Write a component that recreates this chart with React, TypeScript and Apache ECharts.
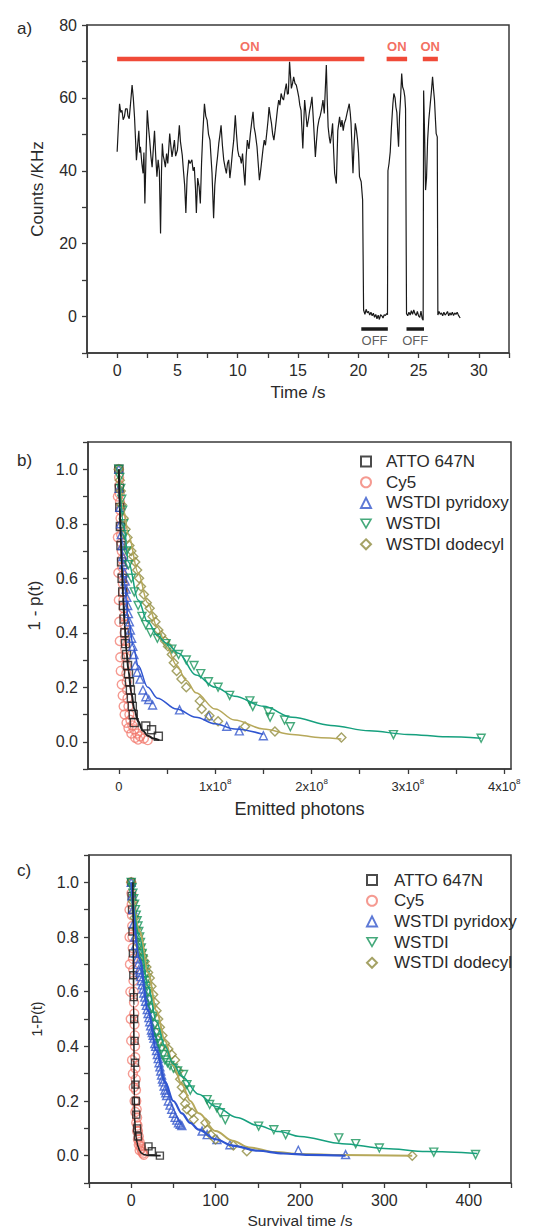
import React, { useEffect, useRef } from "react";
import * as echarts from "echarts";

// ---------- Panel a: fluorescence time trace ----------
const TRACE_T = [
  0, 0.1, 0.2, 0.3, 0.4, 0.5, 0.6, 0.7, 0.83, 0.9, 1.0, 1.1, 1.24, 1.34, 1.44, 1.52, 1.6, 1.7, 1.8, 1.87,
  1.93, 2.05, 2.15, 2.22, 2.3, 2.4, 2.5, 2.6, 2.7, 2.8, 2.9, 3.0, 3.1, 3.2, 3.3, 3.4, 3.5, 3.6, 3.68, 3.75,
  3.83, 3.9, 4.0, 4.1, 4.2, 4.36, 4.45, 4.55, 4.65, 4.75, 4.85, 5.0, 5.16, 5.25, 5.4, 5.5, 5.6, 5.7, 5.8, 5.94,
  6.05, 6.2, 6.3, 6.4, 6.5, 6.57, 6.68, 6.8, 6.9, 7.0, 7.1, 7.24, 7.35, 7.46, 7.58, 7.7, 7.8, 7.87, 8.0, 8.1,
  8.23, 8.33, 8.43, 8.53, 8.62, 8.73, 8.84, 8.95, 9.06, 9.15, 9.25, 9.35, 9.45, 9.56, 9.67, 9.8, 9.9, 10.0, 10.1, 10.2,
  10.3, 10.4, 10.5, 10.6, 10.7, 10.8, 10.93, 11.05, 11.15, 11.27, 11.36, 11.46, 11.6, 11.7, 11.8, 11.9, 12.0, 12.1, 12.2, 12.3,
  12.43, 12.52, 12.6, 12.7, 12.8, 12.9, 13.0, 13.1, 13.2, 13.3, 13.4, 13.5, 13.6, 13.7, 13.8, 13.92, 14.03, 14.12, 14.2, 14.3,
  14.38, 14.45, 14.55, 14.64, 14.75, 14.86, 14.96, 15.06, 15.15, 15.25, 15.4, 15.55, 15.65, 15.75, 15.86, 15.97, 16.06, 16.16, 16.3, 16.44,
  16.53, 16.63, 16.74, 16.85, 16.96, 17.07, 17.18, 17.35, 17.42, 17.5, 17.6, 17.68, 17.78, 17.87, 17.96, 18.04, 18.18, 18.3, 18.45, 18.55,
  18.65, 18.75, 18.84, 18.95, 19.06, 19.15, 19.25, 19.33, 19.4, 19.56, 19.65, 19.75, 19.85, 19.94, 20.02, 20.1, 20.24, 20.36, 20.44, 20.55,
  20.65, 20.75, 20.85, 20.95, 21.05, 21.15, 21.25, 21.35, 21.45, 21.55, 21.65, 21.75, 21.85, 21.95, 22.05, 22.15, 22.25, 22.35, 22.42, 22.46,
  22.55, 22.65, 22.75, 22.87, 22.95, 23.05, 23.12, 23.2, 23.28, 23.34, 23.42, 23.5, 23.6, 23.68, 23.78, 23.86, 23.92, 24.0, 24.1, 24.2,
  24.3, 24.4, 24.5, 24.6, 24.7, 24.8, 24.9, 25.0, 25.1, 25.2, 25.3, 25.38, 25.42, 25.5, 25.58, 25.66, 25.75, 25.85, 25.97, 26.07,
  26.16, 26.25, 26.32, 26.4, 26.46, 26.55, 26.6, 26.7, 26.8, 26.9, 27.0, 27.1, 27.2, 27.3, 27.4, 27.5, 27.6, 27.7, 27.8, 27.9,
  28.0, 28.1, 28.2, 28.3, 28.45,
];
const TRACE_Y = [
  45.2, 52, 58.4, 56, 56.6, 54, 54.8, 57, 57, 55, 54.3, 58, 63.5, 60, 54.8, 49, 42.9, 47, 51, 45,
  46.6, 42, 39.3, 45, 31, 45, 56.6, 52, 48.4, 44, 41, 46, 51, 44, 38.4, 43, 40, 22.8, 40, 47.5,
  44, 43, 41, 44.7, 42, 50.2, 47, 43.8, 46, 48.4, 44, 45.7, 52.5, 48, 44.3, 40, 36, 28.4, 38, 43,
  42, 43, 40, 41, 35, 28.4, 38, 35.6, 31, 42, 50, 58.4, 55, 53.9, 50, 48.4, 43, 39.3, 27, 36,
  41, 44, 47.5, 50, 52.5, 47, 43, 41, 39.3, 42, 43, 38, 41, 45, 48.4, 55.2, 50, 45.7, 44, 43.8,
  42, 44.7, 40, 36, 44, 48.4, 46, 50.2, 53, 56.2, 52, 50.2, 46.6, 42, 37.4, 40, 43, 46, 48.4, 47,
  51, 54, 57.5, 55, 53, 50, 48.4, 51, 53.9, 57, 59.4, 58, 61.2, 60, 59.4, 62, 63.9, 61, 61.2, 69.9,
  66, 62.6, 64, 65.8, 64, 63.5, 62, 60.3, 58, 56.6, 46.1, 59.4, 56, 52, 54, 56.6, 58, 60.3, 52.5, 43.8,
  48, 52, 54, 55.2, 57, 59.4, 55.7, 69, 60, 52, 49, 47.5, 50, 53, 45, 39.3, 36.5, 51, 54.8, 52,
  53.9, 51, 53, 54, 55.7, 57, 58.4, 56, 53, 39.3, 47, 53, 51, 48.4, 45, 38.4, 37, 32, 1.8, 0.6,
  2.0, 1.0, 1.4, 0.4, 1.2, 0.2, 0.9, -0.2, 0.6, -0.6, 0.4, -0.8, 0.5, 0.2, -0.4, 0.5, 0.3, 0.8, 0.5, 40,
  42, 45.2, 52, 58.4, 61.2, 60, 57.5, 56, 50, 46.6, 55, 59.4, 66.7, 63, 62, 60.3, 57, 0.8, 0.2, 1.2,
  0.4, 1.6, 0.6, 1.8, 0.8, 0.3, 1.4, 0.2, -0.2, 1.5, -0.6, -1.0, 62, 50, 34.7, 38, 48.4, 54, 58.4, 62,
  65.8, 62, 59.4, 54, 50.2, 49.3, 0.4, 1.4, 0.6, 1.0, 0.2, 1.2, 0.4, 0.8, 1.4, 0.2, 1.0, 0.4, 1.2, 0.3,
  1.0, 0.6, 1.2, 0.4, -0.4,
];
const ON_BARS = [[0, 20.5], [22.35, 24.05], [25.35, 26.6]];
const ON_LEVEL = 70.7;
const ON_LABEL_T = [11.0, 23.2, 25.96];
const ON_LABEL_Y = 74.2;
const OFF_BARS = [[20.25, 22.45], [24.0, 25.45]];
const OFF_LEVEL = -3.4;
const OFF_LABEL_T = [21.35, 24.72];
const OFF_LABEL_Y = -6.7;

// ---------- Panel b: 1 - p(t) vs emitted photons (x in units of 1e8) ----------
const B_ATTO_X = [0, 0.005, 0.01, 0.016, 0.022, 0.028, 0.034, 0.04, 0.047, 0.054, 0.062, 0.07, 0.08, 0.09, 0.1, 0.11, 0.12, 0.13, 0.14, 0.15, 0.16, 0.28, 0.34, 0.41];
const B_ATTO_Y = [1.0, 0.93, 0.86, 0.79, 0.72, 0.66, 0.6, 0.55, 0.5, 0.45, 0.4, 0.36, 0.32, 0.28, 0.25, 0.22, 0.19, 0.16, 0.13, 0.1, 0.07, 0.058, 0.044, 0.02];
const B_ATTO_FIT_X = [0, 0.01, 0.02, 0.03, 0.045, 0.06, 0.08, 0.1, 0.13, 0.16, 0.2, 0.25, 0.3, 0.36, 0.42];
const B_ATTO_FIT_Y = [1.0, 0.86, 0.75, 0.65, 0.53, 0.43, 0.33, 0.26, 0.18, 0.12, 0.075, 0.04, 0.022, 0.012, 0.006];

const B_CY5_X = [
  0, 0.003, 0.006, 0.009, 0.012, 0.015, 0.018, 0.021, 0.024, 0.027, 0.03, 0.033, 0.036, 0.039, 0.042, 0.045, 0.048, 0.051, 0.054, 0.057,
  0.06, 0.063, 0.066, 0.07, 0.074, 0.078, 0.082, 0.086, 0.09, 0.1, 0.11, 0.12, 0.14, 0.16, 0.19, 0.22, 0.26, 0.3,
  -0.01, -0.01, -0.005, 0, 0.005, 0.01, 0.015, 0.02, 0.03, 0.04, 0.05, 0.06, 0.08, 0.1, 0.13, 0.17, 0.2,
];
const B_CY5_Y = [
  1.0, 0.97, 0.94, 0.91, 0.88, 0.85, 0.82, 0.79, 0.76, 0.73, 0.7, 0.67, 0.64, 0.61, 0.58, 0.55, 0.52, 0.49, 0.46, 0.43,
  0.4, 0.37, 0.34, 0.31, 0.28, 0.25, 0.22, 0.19, 0.16, 0.13, 0.1, 0.08, 0.06, 0.045, 0.03, 0.02, 0.012, 0.006,
  0.9, 0.75, 0.62, 0.52, 0.44, 0.37, 0.31, 0.26, 0.21, 0.17, 0.13, 0.1, 0.07, 0.05, 0.03, 0.015, 0.008,
];

const B_PYR_X = [0, 0.005, 0.01, 0.017, 0.025, 0.033, 0.042, 0.05, 0.058, 0.067, 0.075, 0.083, 0.092, 0.1, 0.11, 0.12, 0.133, 0.145, 0.157, 0.17, 0.19, 0.22, 0.25, 0.28, 0.31, 0.35, 0.63, 0.93, 1.12, 1.25, 1.5];
const B_PYR_Y = [1.0, 0.93, 0.86, 0.8, 0.76, 0.72, 0.68, 0.65, 0.62, 0.59, 0.56, 0.53, 0.5, 0.47, 0.44, 0.41, 0.38, 0.35, 0.32, 0.28, 0.255, 0.23, 0.19, 0.165, 0.155, 0.135, 0.117, 0.095, 0.057, 0.04, 0.022];
const B_PYR_FIT_X = [0, 0.02, 0.05, 0.1, 0.15, 0.2, 0.3, 0.4, 0.6, 0.8, 1.0, 1.2, 1.5];
const B_PYR_FIT_Y = [1.0, 0.78, 0.6, 0.45, 0.35, 0.28, 0.2, 0.16, 0.12, 0.09, 0.066, 0.047, 0.027];

const B_WSTDI_X = [0, 0.01, 0.02, 0.03, 0.04, 0.05, 0.06, 0.08, 0.1, 0.13, 0.16, 0.2, 0.24, 0.28, 0.33, 0.4, 0.49, 0.55, 0.62, 0.7, 0.78, 0.85, 0.93, 1.03, 1.15, 1.36, 1.39, 1.55, 1.57, 1.72, 1.78, 2.85, 3.76];
const B_WSTDI_Y = [1.0, 0.97, 0.93, 0.89, 0.85, 0.8, 0.76, 0.7, 0.65, 0.6, 0.55, 0.5, 0.46, 0.43, 0.4, 0.38, 0.36, 0.34, 0.32, 0.3, 0.28, 0.25, 0.22, 0.2, 0.17, 0.15, 0.13, 0.11, 0.09, 0.08, 0.055, 0.026, 0.013];
const B_WSTDI_FIT_X = [0, 0.05, 0.1, 0.2, 0.3, 0.4, 0.5, 0.62, 0.8, 1.0, 1.2, 1.5, 1.8, 2.2, 2.6, 3.0, 3.4, 3.76];
const B_WSTDI_FIT_Y = [1.0, 0.8, 0.66, 0.52, 0.44, 0.39, 0.36, 0.325, 0.245, 0.2, 0.167, 0.13, 0.09, 0.06, 0.04, 0.027, 0.018, 0.013];

const B_DODE_X = [0, 0.01, 0.02, 0.03, 0.05, 0.07, 0.09, 0.11, 0.13, 0.15, 0.17, 0.19, 0.21, 0.23, 0.26, 0.29, 0.32, 0.35, 0.38, 0.41, 0.44, 0.48, 0.51, 0.55, 0.57, 0.6, 0.65, 0.7, 0.84, 0.86, 0.94, 1.03, 1.31, 1.62, 2.31];
const B_DODE_Y = [1.0, 0.96, 0.92, 0.87, 0.82, 0.78, 0.75, 0.72, 0.7, 0.68, 0.66, 0.63, 0.6, 0.57, 0.54, 0.51, 0.49, 0.46, 0.44, 0.41, 0.39, 0.37, 0.35, 0.32, 0.29, 0.26, 0.23, 0.2, 0.15, 0.12, 0.095, 0.075, 0.056, 0.038, 0.016];
const B_DODE_FIT_X = [0, 0.05, 0.1, 0.2, 0.3, 0.4, 0.5, 0.6, 0.7, 0.8, 1.0, 1.2, 1.5, 1.8, 2.1, 2.31];
const B_DODE_FIT_Y = [1.0, 0.85, 0.76, 0.62, 0.51, 0.42, 0.345, 0.28, 0.225, 0.18, 0.12, 0.08, 0.047, 0.027, 0.015, 0.01];

// ---------- Panel c: 1 - P(t) vs survival time (s) ----------
const C_ATTO_X = [0, 0.5, 1, 1.5, 2, 2.5, 3, 3.5, 4, 4.5, 5, 5.5, 6, 7, 8, 20.5, 24.5, 34];
const C_ATTO_Y = [1.0, 0.95, 0.9, 0.82, 0.74, 0.66, 0.58, 0.5, 0.42, 0.34, 0.26, 0.2, 0.15, 0.1, 0.07, 0.034, 0.016, 0.0];
const C_ATTO_FIT_X = [2, 2.5, 3, 3.3, 3.6, 4, 5, 6, 7, 8, 10, 12, 15, 20, 35];
const C_ATTO_FIT_Y = [1.0, 0.8, 0.55, 0.35, 0.22, 0.14, 0.09, 0.065, 0.047, 0.034, 0.018, 0.01, 0.004, 0.001, 0.0];

const C_CY5_X = [
  0, 0.3, 0.6, 0.9, 1.2, 1.5, 1.8, 2.1, 2.4, 2.7, 3.0, 3.3, 3.6, 3.9, 4.2, 4.5, 4.8, 5.1, 5.4, 5.7, 6.0, 6.5, 7, 7.5, 8, 9, 10, 11, 12, 13, 14, 15,
  -2, -2, -1.5, -1, -0.5, 0, 1, 2, 3, 4, 5, 6, 7, 8, 9, 10,
];
const C_CY5_Y = [
  1.0, 0.96, 0.92, 0.88, 0.84, 0.8, 0.76, 0.72, 0.68, 0.64, 0.6, 0.56, 0.52, 0.48, 0.44, 0.4, 0.36, 0.32, 0.28, 0.24, 0.2, 0.17, 0.14, 0.11, 0.09, 0.07, 0.05, 0.035, 0.025, 0.015, 0.008, 0.003,
  0.9, 0.8, 0.7, 0.6, 0.5, 0.42, 0.35, 0.3, 0.25, 0.2, 0.16, 0.12, 0.09, 0.06, 0.04, 0.02,
];

const C_PYR_X = [0, 1, 2, 3, 4, 5, 6, 7, 8, 9, 10, 11, 12, 13, 14, 15, 16, 17, 18, 19, 20, 21, 22, 23, 24, 25, 26, 27, 28, 29, 30, 31, 32, 33, 34, 35, 36, 37, 38, 39, 40, 41, 42, 44, 46, 48, 50, 52, 54, 56, 58, 60, 84, 90, 101.6, 117, 198, 254];
const C_PYR_Y = [1.0, 0.95, 0.9, 0.85, 0.8, 0.77, 0.74, 0.72, 0.7, 0.68, 0.67, 0.655, 0.64, 0.625, 0.61, 0.595, 0.58, 0.565, 0.55, 0.535, 0.52, 0.505, 0.49, 0.475, 0.46, 0.45, 0.44, 0.43, 0.41, 0.4, 0.385, 0.37, 0.355, 0.34, 0.325, 0.31, 0.295, 0.28, 0.27, 0.255, 0.24, 0.23, 0.22, 0.2, 0.185, 0.17, 0.155, 0.14, 0.13, 0.12, 0.115, 0.11, 0.09, 0.077, 0.059, 0.04, 0.02, 0.004];
const C_PYR_FIT_X = [0, 10, 20, 30, 40, 50, 60, 70, 80, 100, 120, 150, 180, 210, 254];
const C_PYR_FIT_Y = [1.0, 0.72, 0.53, 0.385, 0.27, 0.2, 0.155, 0.12, 0.095, 0.06, 0.037, 0.018, 0.008, 0.003, 0.0];

const C_WSTDI_X = [0, 1, 2, 3, 4, 5, 6, 7, 8, 9, 10, 11, 12, 13, 14, 15, 16, 17, 18, 19, 20, 22, 24, 26, 28, 30, 32, 34, 36, 38, 40, 43, 46, 50, 55, 62, 66, 70, 90, 93, 101.6, 105.5, 111.5, 151, 169, 183, 246, 266, 294, 358.5, 408];
const C_WSTDI_Y = [1.0, 0.98, 0.96, 0.94, 0.92, 0.9, 0.88, 0.86, 0.84, 0.82, 0.8, 0.78, 0.76, 0.74, 0.72, 0.7, 0.68, 0.66, 0.64, 0.62, 0.6, 0.57, 0.54, 0.51, 0.48, 0.45, 0.43, 0.41, 0.39, 0.37, 0.35, 0.34, 0.33, 0.32, 0.31, 0.297, 0.26, 0.24, 0.205, 0.187, 0.175, 0.157, 0.132, 0.108, 0.095, 0.077, 0.065, 0.044, 0.028, 0.013, 0.004];
const C_WSTDI_FIT_X = [0, 10, 20, 30, 40, 50, 60, 80, 100, 125, 150, 175, 200, 250, 300, 350, 410];
const C_WSTDI_FIT_Y = [1.0, 0.8, 0.62, 0.49, 0.4, 0.335, 0.29, 0.225, 0.18, 0.14, 0.11, 0.088, 0.07, 0.044, 0.026, 0.015, 0.008];

const C_DODE_X = [0, 2, 4, 6, 8, 10, 12, 14, 16, 18, 20, 22, 24, 26, 28, 30, 32, 34, 37, 40, 44, 48, 52, 56, 58, 60, 62, 64, 66, 72, 74, 88, 90, 94, 100, 121, 137, 333];
const C_DODE_Y = [1.0, 0.93, 0.87, 0.83, 0.8, 0.77, 0.75, 0.73, 0.71, 0.69, 0.67, 0.65, 0.62, 0.59, 0.56, 0.53, 0.5, 0.47, 0.44, 0.41, 0.39, 0.37, 0.35, 0.31, 0.28, 0.25, 0.22, 0.19, 0.17, 0.157, 0.132, 0.12, 0.095, 0.077, 0.059, 0.037, 0.016, 0.0];
const C_DODE_FIT_X = [0, 10, 20, 30, 40, 50, 60, 70, 80, 100, 120, 140, 170, 200, 250, 333];
const C_DODE_FIT_Y = [1.0, 0.82, 0.67, 0.53, 0.42, 0.33, 0.26, 0.2, 0.155, 0.09, 0.055, 0.03, 0.013, 0.006, 0.002, 0.0];

const LEGEND_NAMES = ["ATTO 647N", "Cy5", "WSTDI pyridoxy", "WSTDI", "WSTDI dodecyl"];

// ---------- styling ----------
const FONT = "Liberation Sans, Arial, sans-serif";
const AXIS_COLOR = "#3a3a3a";
const TEXT_COLOR = "#2a2a2a";
const COL = {
  atto: "#1e1e1e",
  cy5: "#f2786c",
  pyr: "#3458cc",
  pyrLine: "#2f55d0",
  wstdi: "#17935a",
  wstdiLine: "#16a07e",
  dode: "#8f8b3e",
  dodeLine: "#b6a85a",
  on: "#f04a38",
};
const DOWN_TRIANGLE = "path://M0,0L10,0L5,8.7Z";

const zip = (xs: number[], ys: number[]) => xs.map((x, i) => [x, ys[i]]);

function axisCommon(fontSize: number) {
  return {
    axisLine: { show: true, onZero: false, lineStyle: { color: AXIS_COLOR, width: 1.5 } },
    axisTick: { show: true, inside: false, length: 5, lineStyle: { color: AXIS_COLOR, width: 1.3 } },
    splitLine: { show: false },
    axisLabel: { color: TEXT_COLOR, fontSize, fontFamily: FONT },
    nameTextStyle: { color: TEXT_COLOR, fontSize: 17, fontFamily: FONT },
    nameLocation: "middle" as const,
  };
}

function scatter(name: string, grid: number, xs: number[], ys: number[], symbol: string, color: string, extra: any = {}) {
  return {
    type: "scatter",
    name,
    xAxisIndex: grid,
    yAxisIndex: grid,
    data: zip(xs, ys),
    symbol,
    symbolSize: 8,
    itemStyle: { color: "transparent", borderColor: color, borderWidth: 1.4 },
    z: 2,
    ...extra,
  };
}

function fit(name: string, grid: number, xs: number[], ys: number[], color: string, width = 1.5) {
  return {
    type: "line",
    name,
    xAxisIndex: grid,
    yAxisIndex: grid,
    data: zip(xs, ys),
    showSymbol: false,
    symbol: "none",
    smooth: 0.35,
    smoothMonotone: "x",
    lineStyle: { color, width },
    z: 3,
  };
}

function buildOption() {
  const fracFmt = (v: number) => {
    const k = Math.round(v * 10);
    return k % 2 === 0 && k >= 0 ? (k / 10).toFixed(1) : "";
  };

  const series: any[] = [];
  // panel a
  series.push({
    type: "line",
    name: "trace",
    xAxisIndex: 0,
    yAxisIndex: 0,
    data: zip(TRACE_T, TRACE_Y),
    showSymbol: false,
    symbol: "none",
    lineStyle: { color: "#1a1a1a", width: 1.2 },
  });
  ON_BARS.forEach((b, i) =>
    series.push({
      type: "line",
      name: "on" + i,
      xAxisIndex: 0,
      yAxisIndex: 0,
      data: [[b[0], ON_LEVEL], [b[1], ON_LEVEL]],
      showSymbol: false,
      symbol: "none",
      lineStyle: { color: COL.on, width: 4.5, cap: "butt" },
    })
  );
  OFF_BARS.forEach((b, i) =>
    series.push({
      type: "line",
      name: "off" + i,
      xAxisIndex: 0,
      yAxisIndex: 0,
      data: [[b[0], OFF_LEVEL], [b[1], OFF_LEVEL]],
      showSymbol: false,
      symbol: "none",
      lineStyle: { color: "#1a1a1a", width: 3.5, cap: "butt" },
    })
  );
  series.push({
    type: "scatter",
    name: "onLabels",
    xAxisIndex: 0,
    yAxisIndex: 0,
    symbolSize: 1,
    itemStyle: { color: "transparent" },
    data: ON_LABEL_T.map((t) => ({ value: [t, ON_LABEL_Y], name: "ON" })),
    label: { show: true, position: "inside", formatter: "{b}", color: COL.on, fontSize: 13, fontWeight: "bold", fontFamily: FONT },
  });
  series.push({
    type: "scatter",
    name: "offLabels",
    xAxisIndex: 0,
    yAxisIndex: 0,
    symbolSize: 1,
    itemStyle: { color: "transparent" },
    data: OFF_LABEL_T.map((t) => ({ value: [t, OFF_LABEL_Y], name: "OFF" })),
    label: { show: true, position: "inside", formatter: "{b}", color: "#333", fontSize: 13, fontFamily: FONT },
  });

  const cy5Style = { itemStyle: { color: "transparent", borderColor: COL.cy5, borderWidth: 1.4, opacity: 0.75 }, symbolSize: 9 };

  // panel b
  series.push(scatter(LEGEND_NAMES[1], 1, B_CY5_X, B_CY5_Y, "circle", COL.cy5, cy5Style));
  series.push(scatter(LEGEND_NAMES[0], 1, B_ATTO_X, B_ATTO_Y, "rect", COL.atto));
  series.push(scatter(LEGEND_NAMES[2], 1, B_PYR_X, B_PYR_Y, "triangle", COL.pyr));
  series.push(scatter(LEGEND_NAMES[4], 1, B_DODE_X, B_DODE_Y, "diamond", COL.dode, { symbolSize: 9 }));
  series.push(scatter(LEGEND_NAMES[3], 1, B_WSTDI_X, B_WSTDI_Y, "triangle", COL.wstdi, { symbolRotate: 180 }));
  series.push(fit("fitB_pyr", 1, B_PYR_FIT_X, B_PYR_FIT_Y, COL.pyrLine));
  series.push(fit("fitB_dode", 1, B_DODE_FIT_X, B_DODE_FIT_Y, COL.dodeLine));
  series.push(fit("fitB_wstdi", 1, B_WSTDI_FIT_X, B_WSTDI_FIT_Y, COL.wstdiLine));
  series.push(fit("fitB_atto", 1, B_ATTO_FIT_X, B_ATTO_FIT_Y, COL.atto, 2));

  // panel c
  series.push(scatter(LEGEND_NAMES[1], 2, C_CY5_X, C_CY5_Y, "circle", COL.cy5, cy5Style));
  series.push(scatter(LEGEND_NAMES[0], 2, C_ATTO_X, C_ATTO_Y, "rect", COL.atto, { symbolSize: 7 }));
  series.push(scatter(LEGEND_NAMES[2], 2, C_PYR_X, C_PYR_Y, "triangle", COL.pyr));
  series.push(scatter(LEGEND_NAMES[4], 2, C_DODE_X, C_DODE_Y, "diamond", COL.dode, { symbolSize: 9 }));
  series.push(scatter(LEGEND_NAMES[3], 2, C_WSTDI_X, C_WSTDI_Y, "triangle", COL.wstdi, { symbolRotate: 180 }));
  series.push(fit("fitC_dode", 2, C_DODE_FIT_X, C_DODE_FIT_Y, COL.dodeLine, 2));
  series.push(fit("fitC_wstdi", 2, C_WSTDI_FIT_X, C_WSTDI_FIT_Y, COL.wstdiLine));
  series.push(fit("fitC_pyr", 2, C_PYR_FIT_X, C_PYR_FIT_Y, COL.pyrLine, 2.2));
  series.push(fit("fitC_atto", 2, C_ATTO_FIT_X, C_ATTO_FIT_Y, COL.atto, 1.6));

  const legendData = LEGEND_NAMES.map((n) =>
    n === "WSTDI"
      ? { name: n, icon: DOWN_TRIANGLE, itemStyle: { color: "transparent", borderColor: COL.wstdi, borderWidth: 1.6 } }
      : { name: n }
  );
  const legendCommon = {
    orient: "vertical" as const,
    data: legendData,
    padding: 0,
    itemWidth: 10,
    itemHeight: 10,
    itemGap: 3.7,
    selectedMode: false,
    textStyle: { color: TEXT_COLOR, fontSize: 17, fontFamily: FONT, padding: [0, 0, 0, 10] },
  };

  const gridCommon = { show: true, borderColor: AXIS_COLOR, borderWidth: 1.5, backgroundColor: "transparent" };

  return {
    animation: false,
    backgroundColor: "#ffffff",
    textStyle: { fontFamily: FONT },
    title: [
      { text: "a)", left: 12, top: 15, textStyle: { fontSize: 17, fontWeight: "normal", color: TEXT_COLOR, fontFamily: FONT } },
      { text: "b)", left: 12, top: 447, textStyle: { fontSize: 17, fontWeight: "normal", color: TEXT_COLOR, fontFamily: FONT } },
      { text: "c)", left: 12, top: 857, textStyle: { fontSize: 17, fontWeight: "normal", color: TEXT_COLOR, fontFamily: FONT } },
    ],
    legend: [
      { ...legendCommon, left: 360, top: 453 },
      { ...legendCommon, left: 366, top: 871.5, textStyle: { ...legendCommon.textStyle, padding: [0, 0, 0, 12] } },
    ],
    grid: [
      { ...gridCommon, left: 87, top: 25, width: 422, height: 328 },
      { ...gridCommon, left: 88, top: 442, width: 423, height: 327 },
      { ...gridCommon, left: 89, top: 855, width: 422, height: 328 },
    ],
    xAxis: [
      {
        ...axisCommon(16),
        gridIndex: 0,
        type: "value",
        min: -2.5,
        max: 32.5,
        interval: 2.5,
        name: "Time /s",
        nameGap: 31,
        axisLabel: {
          ...axisCommon(16).axisLabel,
          margin: 9,
          formatter: (v: number) => (Math.abs(v / 5 - Math.round(v / 5)) < 1e-6 ? String(Math.round(v)) : ""),
        },
      },
      {
        ...axisCommon(13),
        gridIndex: 1,
        type: "value",
        min: -0.32,
        max: 4.07,
        splitNumber: 9,
        name: "Emitted photons",
        nameGap: 31,
        nameTextStyle: { color: TEXT_COLOR, fontSize: 18, fontFamily: FONT },
        axisLabel: {
          ...axisCommon(13).axisLabel,
          margin: 8,
          showMinLabel: false,
          showMaxLabel: false,
          formatter: (v: number) => {
            const r = Math.round(v);
            if (Math.abs(v - r) > 1e-6) return "";
            if (r === 0) return "{b|0}";
            return "{b|" + r + "x10}{s|8}";
          },
          rich: {
            b: { fontSize: 13, fontFamily: FONT, color: TEXT_COLOR, lineHeight: 16, verticalAlign: "bottom" },
            s: { fontSize: 8, fontFamily: FONT, color: TEXT_COLOR, lineHeight: 16, verticalAlign: "top" },
          },
        },
      },
      {
        ...axisCommon(16),
        gridIndex: 2,
        type: "value",
        min: -50,
        max: 450,
        interval: 50,
        name: "Survival time /s",
        nameGap: 29,
        nameTextStyle: { color: TEXT_COLOR, fontSize: 15.5, fontFamily: FONT },
        axisLabel: {
          ...axisCommon(16).axisLabel,
          margin: 9,
          formatter: (v: number) => (Math.round(v) % 100 === 0 ? String(Math.round(v)) : ""),
        },
      },
    ],
    yAxis: [
      {
        ...axisCommon(16),
        gridIndex: 0,
        type: "value",
        min: -10,
        max: 80,
        interval: 10,
        name: "Counts /KHz",
        nameGap: 41,
        axisLabel: {
          ...axisCommon(16).axisLabel,
          margin: 10,
          formatter: (v: number) => (Math.round(v) % 20 === 0 ? String(Math.round(v)) : ""),
        },
      },
      {
        ...axisCommon(16),
        gridIndex: 1,
        type: "value",
        min: -0.1,
        max: 1.1,
        interval: 0.1,
        name: "1 - p(t)",
        nameGap: 45,
        axisLabel: { ...axisCommon(16).axisLabel, margin: 10, formatter: fracFmt },
      },
      {
        ...axisCommon(16),
        gridIndex: 2,
        type: "value",
        min: -0.1,
        max: 1.1,
        interval: 0.1,
        name: "1-P(t)",
        nameGap: 45,
        nameTextStyle: { color: TEXT_COLOR, fontSize: 14, fontFamily: FONT },
        axisLabel: { ...axisCommon(16).axisLabel, margin: 10, formatter: fracFmt },
      },
    ],
    series,
  };
}

export default function App() {
  const ref = useRef<HTMLDivElement>(null);
  useEffect(() => {
    if (!ref.current) return;
    const chart = echarts.init(ref.current, null, { renderer: "svg" });
    chart.setOption(buildOption() as any);
    return () => chart.dispose();
  }, []);
  return (
    <div
      ref={ref}
      style={{ position: "absolute", left: 0, top: 0, width: 553, height: 1229, background: "#fff" }}
    />
  );
}
